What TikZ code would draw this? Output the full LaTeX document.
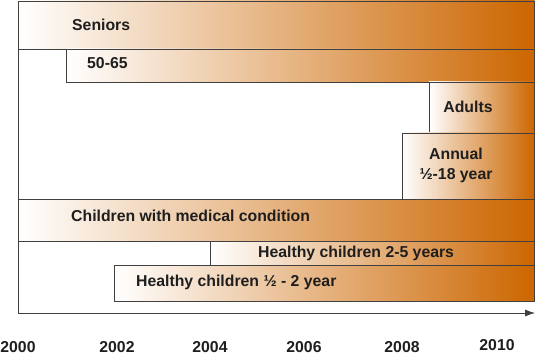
\documentclass[tikz,border=0pt]{standalone}
\usepackage{fontspec}
\setmainfont{Liberation Sans}
\usetikzlibrary{arrows.meta, calc}
\definecolor{rust}{RGB}{204,102,0}
\definecolor{ink}{RGB}{30,30,30}
\tikzset{
  agebar/.style={left color=white, right color=rust, draw=black!75, line width=0.8pt},
  lbl/.style={font=\bfseries\fontsize{15.8}{20}\selectfont, text=ink, inner sep=0pt},
  yr/.style={lbl, anchor=center},
}
\newcommand{\agebar}[3]{%
  \shade[agebar] (#1,#2) rectangle (534.5,#3);
}

\begin{document}
\begin{tikzpicture}[x=1pt, y=-1pt]
            \useasboundingbox (0,0) rectangle (535,358);

            \coordinate (O) at (18, 313);
            \coordinate (T) at (18, 1);
            \coordinate (E) at (535, 313);

            % bars, oldest group on top
            \agebar{18}{1}{49}
            \agebar{66}{49}{82}
            \agebar{429}{82}{133}
            \agebar{402}{133}{199}
            \agebar{18}{199}{241}
            \agebar{210}{241}{265}
            \agebar{114}{265}{301}

            \draw[black!75, line width=0.8pt] (T) -- (O);
            \draw[black!75, line width=0.8pt, -{Latex[length=10pt, width=7pt]}] (O) -- (E);

            \node[lbl, anchor=west] (seniors) at (72, 25) {Seniors};
            \node[lbl, anchor=west] (fifty) at (87, 63) {50-65};
            \node[lbl] (adults) at (468, 107) {Adults};
            \node[lbl, align=center] (annual) at (456, 165) {Annual\\½-18 year};
            \node[lbl, anchor=west] (medical) at (71, 216) {Children with medical condition};
            \node[lbl, anchor=west] (twofive) at (258, 253) {Healthy children 2-5 years};
            \node[lbl, anchor=west] (halftwo) at (136, 282) {Healthy children ½ - 2 year};

            \node[yr] (y0) at (18, 347) {2000};
            \node[yr] (y2) at (117, 347) {2002};
            \node[yr] (y4) at (210, 347) {2004};
            \node[yr] (y6) at (304, 347) {2006};
            \node[yr] (y8) at (402, 347) {2008};
            \node[yr] (y10) at (497, 345) {2010};
        \end{tikzpicture}
\end{document}
